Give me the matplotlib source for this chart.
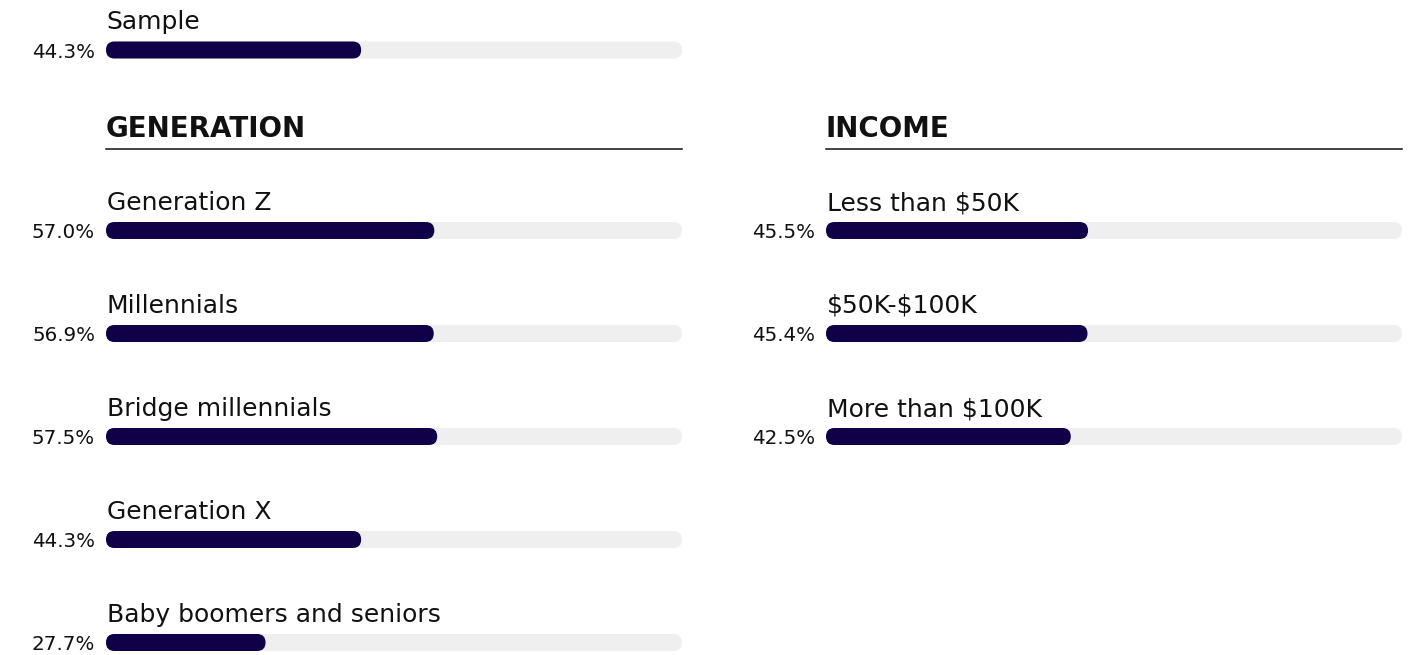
import matplotlib
matplotlib.use("Agg")
import matplotlib.pyplot as plt
from matplotlib.patches import FancyBboxPatch

plt.rcParams['font.family'] = ['DejaVu Sans']

# ---- data ----
sample_label = ["Sample"]
sample_values = [44.3]
generation_labels = ["Generation Z", "Millennials", "Bridge millennials",
                     "Generation X", "Baby boomers and seniors"]
generation_values = [57.0, 56.9, 57.5, 44.3, 27.7]
income_labels = ["Less than \\$50K", "\\$50K-\\$100K", "More than \\$100K"]
income_values = [45.5, 45.4, 42.5]
headers = ["GENERATION", "INCOME"]

BAR = "#0f0048"
TRACK = "#efefef"
W, H = 1415, 655
PANEL_W = 576
BAR_H = 17
ASPECT = PANEL_W / 100.0

fig = plt.figure(figsize=(W / 100, H / 100), dpi=100)
fig.patch.set_facecolor("white")


def make_ax(x0):
    ax = fig.add_axes([x0 / W, 0, PANEL_W / W, 1])
    ax.set_xlim(0, 100)
    ax.set_ylim(H, 0)
    ax.axis("off")
    return ax


def rbar(ax, yc, v, color):
    p = FancyBboxPatch((0, yc - BAR_H / 2), v, BAR_H,
                       boxstyle=f"round,pad=0,rounding_size={BAR_H / 2 / ASPECT}",
                       mutation_aspect=ASPECT, linewidth=0, facecolor=color,
                       clip_on=False)
    ax.add_patch(p)


def row(ax, yc, label, v):
    rbar(ax, yc, 100, TRACK)
    rbar(ax, yc, v, BAR)
    ax.text(0.1, yc - 20.5, label, fontsize=18, va="baseline", ha="left", color="#111111")
    ax.annotate(f"{v:.1f}%", xy=(0, yc + 7.5), xytext=(-11, 0), textcoords="offset pixels",
                ha="right", va="baseline", fontsize=14.3, color="#111111")


def header(ax, text):
    ax.text(0, 137, text, fontsize=20, fontweight="bold", va="baseline", ha="left", color="#111111")
    ax.plot([0, 100], [149, 149], color="#111111", lw=1.1, clip_on=False)


axL = make_ax(106)
axR = make_ax(826)

for i, (lab, v) in enumerate(zip(sample_label, sample_values)):
    row(axL, 50 + i * 103, lab, v)

header(axL, headers[0])
for i, (lab, v) in enumerate(zip(generation_labels, generation_values)):
    row(axL, 230.5 + i * 103, lab, v)

header(axR, headers[1])
for i, (lab, v) in enumerate(zip(income_labels, income_values)):
    row(axR, 230.5 + i * 103, lab, v)

fig.savefig("out.png", dpi=100, facecolor="white")
